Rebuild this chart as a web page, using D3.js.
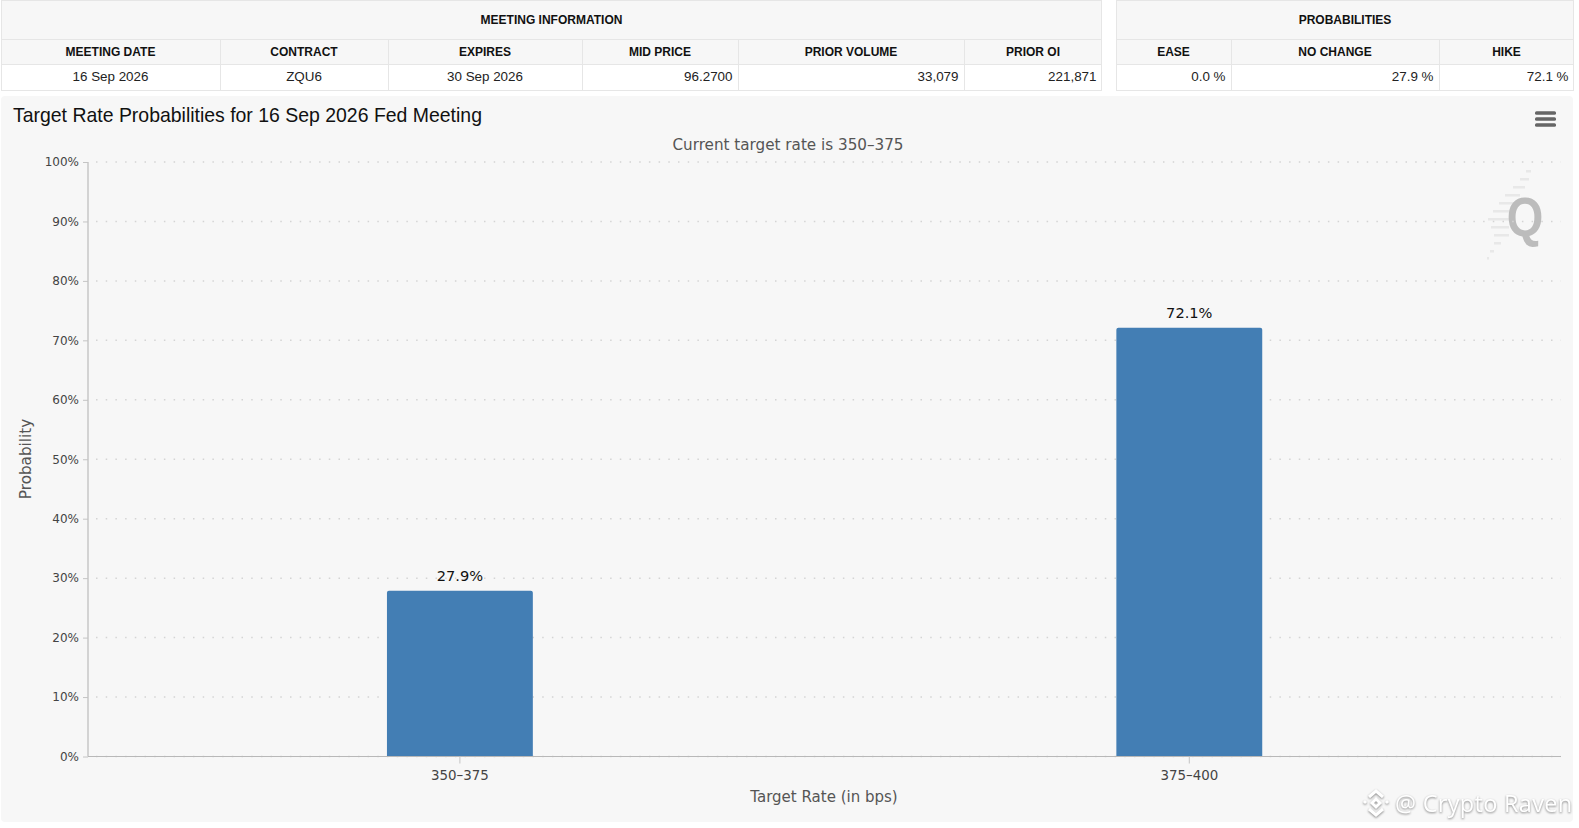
<!DOCTYPE html>
<html>
<head>
<meta charset="utf-8">
<script src="https://cdn.jsdelivr.net/npm/d3@7"></script>
<style>
html, body { margin: 0; padding: 0; background: #fff; }
svg { display: block; }
</style>
</head>
<body>
<svg class="chart" width="1579" height="828"></svg>
<script>
var rates = ["350-375", "375-400"].map(function (s) { return s.replace("-", "\u2013"); });
var probabilities = [27.9, 72.1];
var yTicks = [0, 10, 20, 30, 40, 50, 60, 70, 80, 90, 100];

var meetingHeaders = ["MEETING DATE", "CONTRACT", "EXPIRES", "MID PRICE", "PRIOR VOLUME", "PRIOR OI"];
var meetingValues = ["16 Sep 2026", "ZQU6", "30 Sep 2026", "96.2700", "33,079", "221,871"];
var meetingAlign = ["middle", "middle", "middle", "end", "end", "end"];
var meetingEdges = [1, 220, 388, 582, 738, 964, 1102];

var probHeaders = ["EASE", "NO CHANGE", "HIKE"];
var probValues = ["0.0 %", "27.9 %", "72.1 %"];
var probAlign = ["end", "end", "end"];
var probEdges = [1116, 1231, 1439, 1574];

var svg = d3.select(".chart");
var sans = "'Liberation Sans', Arial, sans-serif";
var chartFont = "'DejaVu Sans', sans-serif";

function drawTable(title, headers, values, align, edges) {
	var g = svg.append("g");
	var left = edges[0], right = edges[edges.length - 1];

	g.append("rect").attr("x", left).attr("y", 0.5).attr("width", right - left).attr("height", 64)
		.attr("fill", "#f7f7f7");
	g.append("rect").attr("x", left).attr("y", 64.5).attr("width", right - left).attr("height", 26)
		.attr("fill", "#fff");

	// outer border and row lines
	g.append("rect").attr("x", left + 0.5).attr("y", 0.5).attr("width", right - left - 1).attr("height", 90)
		.attr("fill", "none").attr("stroke", "#e6e6e6");
	[39.5, 64.5].forEach(function (y) {
		g.append("line").attr("x1", left).attr("x2", right).attr("y1", y).attr("y2", y)
			.attr("stroke", "#e6e6e6");
	});
	edges.slice(1, -1).forEach(function (x) {
		g.append("line").attr("x1", x + 0.5).attr("x2", x + 0.5).attr("y1", 40).attr("y2", 90)
			.attr("stroke", "#e6e6e6");
	});

	g.append("text").attr("x", (left + right) / 2).attr("y", 24)
		.attr("text-anchor", "middle").attr("font-family", sans)
		.attr("font-size", 12).attr("font-weight", "bold").attr("fill", "#111").text(title);

	headers.forEach(function (h, i) {
		g.append("text").attr("x", (edges[i] + edges[i + 1]) / 2).attr("y", 56)
			.attr("text-anchor", "middle").attr("font-family", sans)
			.attr("font-size", 12).attr("font-weight", "bold").attr("fill", "#111").text(h);
		var a = align[i];
		g.append("text")
			.attr("x", a === "end" ? edges[i + 1] - 5.5 : (edges[i] + edges[i + 1]) / 2)
			.attr("y", 81)
			.attr("text-anchor", a).attr("font-family", sans)
			.attr("font-size", 13.4).attr("fill", "#222").text(values[i]);
	});
}

drawTable("MEETING INFORMATION", meetingHeaders, meetingValues, meetingAlign, meetingEdges);
drawTable("PROBABILITIES", probHeaders, probValues, probAlign, probEdges);

// chart panel
svg.append("rect").attr("x", 1).attr("y", 96).attr("width", 1572).attr("height", 726)
	.attr("rx", 4).attr("fill", "#f7f7f7");

svg.append("text").attr("x", 13).attr("y", 121.5)
	.attr("font-family", sans).attr("font-size", 19.45).attr("fill", "#111")
	.text("Target Rate Probabilities for 16 Sep 2026 Fed Meeting");

svg.append("text").attr("x", 788).attr("y", 149.5).attr("text-anchor", "middle")
	.attr("font-family", chartFont).attr("font-size", 15.2).attr("fill", "#555")
	.text("Current target rate is 350\u2013375");

var x = d3.scaleBand().domain(rates).range([95.2, 1554]).paddingInner(0.8).paddingOuter(0.4);
var y = d3.scaleLinear().domain([0, 100]).range([756.5, 162]);
var plotLeft = 88, plotRight = 1561;

// logo behind the grid
var logo = svg.append("g");
[[1526, 170, 5], [1520, 178, 9], [1513, 186, 12], [1505, 194, 15], [1499, 202, 17], [1493, 210, 19],
 [1488, 218, 22], [1491, 226, 18], [1494, 234, 15], [1494, 242, 7], [1490, 250, 4], [1487, 257, 2]].forEach(function (s) {
	logo.append("rect").attr("x", s[0]).attr("y", s[1]).attr("width", s[2]).attr("height", 2.5)
		.attr("fill", "#e8e8e8");
});
logo.append("text").attr("transform", "translate(1525,236) scale(0.84,1)").attr("text-anchor", "middle")
	.attr("font-family", sans).attr("font-size", 56).attr("font-weight", "bold").attr("fill", "#bcbcbc")
	.text("Q");

// dotted grid
svg.append("g").selectAll("line").data(yTicks).enter().append("line")
	.attr("x1", plotLeft + 8).attr("x2", plotRight)
	.attr("y1", function (d) { return y(d); })
	.attr("y2", function (d) { return y(d); })
	.attr("stroke", "#d4d4d4").attr("stroke-width", 1.5).attr("stroke-dasharray", "1.5 8.2");

// bars
svg.append("g").selectAll("path").data(probabilities).enter().append("path")
	.attr("fill", "#437eb4")
	.attr("d", function (d, i) {
		var l = x(rates[i]), r = l + x.bandwidth(), t = y(d), b = y(0), c = 2;
		return "M" + l + "," + b + "V" + (t + c) + "Q" + l + "," + t + " " + (l + c) + "," + t +
			"H" + (r - c) + "Q" + r + "," + t + " " + r + "," + (t + c) + "V" + b + "Z";
	});

// value labels
svg.append("g").selectAll("text").data(probabilities).enter().append("text")
	.attr("x", function (d, i) { return x(rates[i]) + x.bandwidth() / 2; })
	.attr("y", function (d) { return y(d) - 9.5; })
	.attr("text-anchor", "middle").attr("font-family", chartFont).attr("font-size", 14.6).attr("fill", "#111")
	.text(function (d) { return d.toFixed(1) + "%"; });

// y axis
var yAxis = svg.append("g").attr("transform", "translate(" + plotLeft + ",0)")
	.call(d3.axisLeft(y).tickValues(yTicks).tickSize(5).tickPadding(4).tickFormat(function (d) { return d + "%"; }));
yAxis.selectAll("line").attr("stroke", "#c4c4c4");
yAxis.select(".domain").attr("stroke", "#bbb").attr("stroke-width", 1.2).attr("d", "M0,162V756.5");
yAxis.selectAll("text").attr("font-family", chartFont).attr("font-size", 12).attr("fill", "#444");

// x axis
var xAxis = svg.append("g").attr("transform", "translate(0,756.5)")
	.call(d3.axisBottom(x).tickSize(7).tickPadding(6.5));
xAxis.selectAll("line").attr("stroke", "#c4c4c4");
xAxis.select(".domain").attr("stroke", "#b8b8b8").attr("stroke-width", 1.2)
	.attr("d", "M" + plotLeft + ",0H" + plotRight);
xAxis.selectAll("text").attr("font-family", chartFont).attr("font-size", 13.4).attr("fill", "#444");

svg.append("text").attr("x", 824).attr("y", 801.5).attr("text-anchor", "middle")
	.attr("font-family", chartFont).attr("font-size", 15).attr("fill", "#555")
	.text("Target Rate (in bps)");

svg.append("text").attr("transform", "translate(31,459) rotate(-90)").attr("text-anchor", "middle")
	.attr("font-family", chartFont).attr("font-size", 15.2).attr("fill", "#555")
	.text("Probability");

// export menu
[113, 119, 125].forEach(function (yy) {
	svg.append("rect").attr("x", 1535).attr("y", yy - 1.8).attr("width", 21).attr("height", 3.6)
		.attr("rx", 1.5).attr("fill", "#666");
});

// watermark
var mark = svg.append("g").attr("fill", "#fff").style("filter", "drop-shadow(0 1px 1px rgba(0,0,0,0.45))");
mark.append("path")
	.attr("transform", "translate(1376,803)")
	.attr("fill", "none").attr("stroke", "#fff").attr("stroke-width", 3)
	.attr("d", "M-7,-6L0,-12L7,-6M-7,6L0,12L7,6M-12,0L-10,-2M12,0L10,-2M-4,0L0,-4L4,0L0,4Z");
mark.append("text").attr("x", 1395).attr("y", 812)
	.attr("font-family", "'Open Sans', sans-serif").attr("font-size", 23.5).attr("letter-spacing", 0.3)
	.text("@ Crypto Raven");
</script>
</body>
</html>
